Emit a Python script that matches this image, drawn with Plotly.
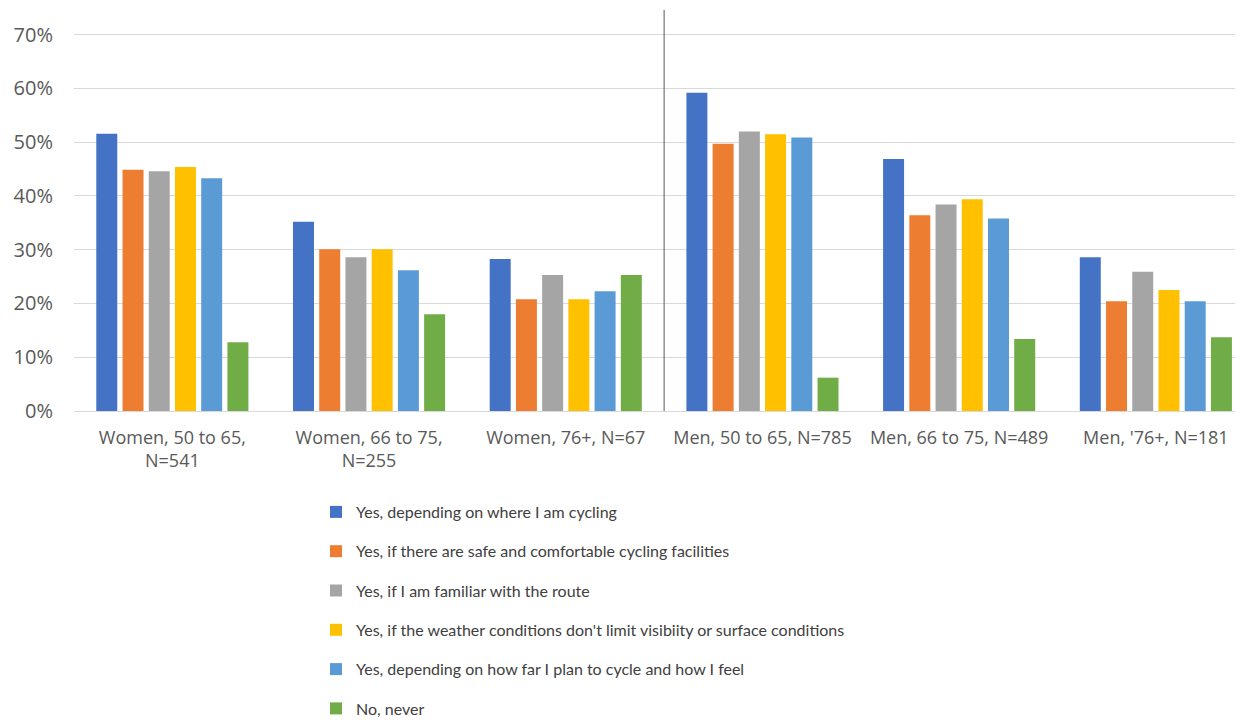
import plotly.graph_objects as go

categories = ["Women, 50 to 65,<br>N=541", "Women, 66 to 75,<br>N=255", "Women, 76+, N=67",
              "Men, 50 to 65, N=785", "Men, 66 to 75, N=489", "Men, '76+, N=181"]

series_names = [
    "Yes, depending on where I am cycling",
    "Yes, if there are safe and comfortable cycling facilities",
    "Yes, if I am familiar with the route",
    "Yes, if the weather conditions don't limit visibiity or surface conditions",
    "Yes, depending on how far I plan to cycle and how I feel",
    "No, never",
]

where_cycling = [0.516, 0.352, 0.283, 0.592, 0.469, 0.286]
safe_facilities = [0.449, 0.301, 0.208, 0.497, 0.364, 0.204]
familiar_route = [0.446, 0.286, 0.253, 0.520, 0.384, 0.259]
weather = [0.454, 0.301, 0.208, 0.515, 0.394, 0.225]
how_far = [0.433, 0.262, 0.223, 0.509, 0.358, 0.204]
never = [0.128, 0.180, 0.253, 0.062, 0.134, 0.137]

series_values = [where_cycling, safe_facilities, familiar_route, weather, how_far, never]
colors = ["#4472C4", "#ED7D31", "#A5A5A5", "#FFC000", "#5B9BD5", "#70AD47"]

fig = go.Figure()
for i, (name, vals, col) in enumerate(zip(series_names, series_values, colors)):
    fig.add_trace(go.Bar(x=categories, y=vals, name=name, marker_color=col,
                         marker_line_width=0, legendgroup=f"g{i}"))

fig.add_shape(type="line", xref="x", yref="y", x0=2.5, x1=2.5, y0=0, y1=0.746,
              line=dict(color="#595959", width=1))

fig.update_layout(
    width=1235, height=715,
    margin=dict(l=66, r=0, t=2, b=312),
    plot_bgcolor="white", paper_bgcolor="white",
    barmode="group", bargap=0.2, bargroupgap=0.2,
    font=dict(family="Open Sans", color="#595959"),
    showlegend=True,
    legend=dict(orientation="v", x=0.207, y=0.3189, xanchor="left", yanchor="top",
                yref="container",
                traceorder="grouped", tracegroupgap=15.5,
                font=dict(family="Lato", size=16, color="#404040"),
                bgcolor="rgba(0,0,0,0)"),
)
fig.update_xaxes(range=[-0.5, 5.443], showgrid=False, showline=True, linecolor="#D9D9D9",
                 tickfont=dict(size=18, color="#595959"), ticks="", automargin=False,
                 ticklabelstandoff=10)
fig.update_yaxes(range=[0, 0.746], dtick=0.1, tickformat=".0%", showgrid=True,
                 gridcolor="#D9D9D9", gridwidth=1, zeroline=False, showline=False,
                 tickfont=dict(size=20, color="#595959"), ticklabelstandoff=20,
                 automargin=False)

fig.write_html("out.html")
